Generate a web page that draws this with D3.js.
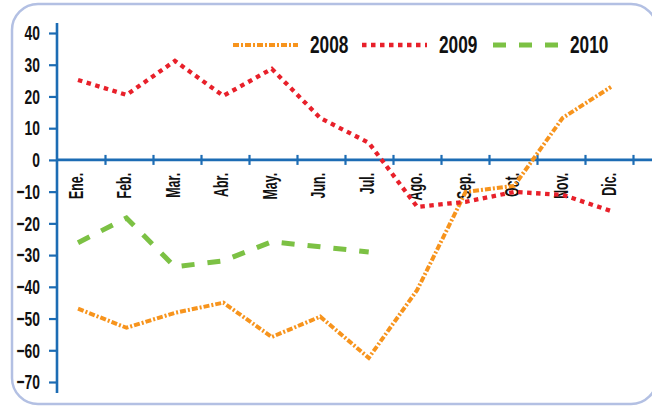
<!DOCTYPE html>
<html lang="es">
  <head>
    <meta charset="utf-8">
    <title>2008 2009 2010</title>
    <style>
      body { margin: 0; background: #fff; }
      svg { display: block; }
      text { font-family: "Liberation Sans", Arial, sans-serif; fill: #111; }
    </style>
  </head>
  <body>
    <svg></svg>

    <script src="https://d3js.org/d3.v7.min.js"></script>

    <script>
      // tamaño
      var svgWidth = 652;
      var svgHeight = 406;

      // datos
      var meses = ['Ene.', 'Feb.', 'Mar.', 'Abr.', 'May.', 'Jun.', 'Jul.', 'Ago.', 'Sep.', 'Oct.', 'Nov.', 'Dic.'];
      var serie2008 = [-46.9, -52.9, -48.2, -45, -55.8, -49.4, -62.4, -41, -10.1, -8.2, 13.2, 23];
      var serie2009 = [25.2, 20.5, 31.2, 20.2, 28.7, 13.2, 5.4, -14.8, -13.2, -10.1, -11, -16.1];
      var serie2010 = [-26.1, -18.3, -33.7, -31.8, -25.8, -27.4, -29];
      var yTicks = [40, 30, 20, 10, 0, -10, -20, -30, -40, -50, -60, -70];
      var anios = ['2008', '2009', '2010'];

      var svg = d3.select('svg')
          .attr('width', svgWidth)
          .attr('height', svgHeight);

      // marco redondeado
      svg.append('rect')
          .attr('x', 12).attr('y', 4)
          .attr('width', 645).attr('height', 400)
          .attr('rx', 26).attr('ry', 26)
          .attr('fill', 'none')
          .attr('stroke', '#b3c0e3')
          .attr('stroke-width', 2.5);

      var azul = '#1c6cb4';
      // letra estrecha: Liberation Sans comprimida a lo ancho
      var estrecho = 0.66;

      var y = d3.scaleLinear().domain([-70, 40]).range([382, 33]);
      var xTick = d3.scaleLinear().domain([0, 12]).range([57, 633]);
      var x = d3.scalePoint().domain(meses).range([78, 611]);

      // eje y
      var ejeY = svg.append('g')
          .attr('transform', 'translate(57,0)')
          .call(d3.axisLeft(y).tickValues(yTicks).tickSize(8).tickPadding(9).tickFormat(d3.format('d')));
      ejeY.select('.domain').remove();
      ejeY.selectAll('.tick line').attr('stroke', azul).attr('stroke-width', 2.2);
      ejeY.selectAll('.tick text')
          .attr('font-size', 21)
          .attr('font-weight', 'bold')
          .attr('font-family', '"Liberation Sans", sans-serif')
          .attr('fill', '#111')
          .attr('x', -17 / estrecho)
          .attr('transform', 'scale(' + estrecho + ',1)');
      svg.append('line')
          .attr('x1', 57).attr('x2', 57)
          .attr('y1', 23).attr('y2', 393)
          .attr('stroke', azul).attr('stroke-width', 2.6);

      // eje x en cero
      var ejeX = svg.append('g')
          .attr('transform', 'translate(0,' + y(0) + ')')
          .call(d3.axisBottom(xTick).tickValues(d3.range(1, 13)).tickSize(0).tickFormat(''));
      ejeX.select('.domain').remove();
      ejeX.selectAll('.tick line')
          .attr('y1', -5).attr('y2', 5)
          .attr('stroke', azul).attr('stroke-width', 2.2);
      svg.append('line')
          .attr('x1', 57).attr('x2', 652)
          .attr('y1', y(0)).attr('y2', y(0))
          .attr('stroke', azul).attr('stroke-width', 2.6);

      // etiquetas de meses, giradas
      svg.selectAll('.mes')
          .data(meses)
          .enter()
          .append('text')
          .attr('class', 'mes')
          .attr('transform', function(d) { return 'translate(' + (x(d) + 5) + ',' + (y(0) + 13) + ') rotate(-90) scale(0.62,1)'; })
          .attr('text-anchor', 'end')
          .attr('font-size', 20)
          .attr('font-weight', 'bold')
          .text(function(d) { return d; });

      var linea = d3.line()
          .x(function(d, i) { return x(meses[i]); })
          .y(function(d) { return y(d); });

      var estilos = {
        '2008': { color: '#f7941d', ancho: 4, dash: '6,2,2,2', datos: serie2008 },
        '2009': { color: '#e8202a', ancho: 4.3, dash: '4.5,4.5', datos: serie2009 },
        '2010': { color: '#7cc144', ancho: 5, dash: '13,13', datos: serie2010 }
      };

      anios.forEach(function(a) {
        var e = estilos[a];
        svg.append('path')
            .datum(e.datos)
            .attr('d', linea)
            .attr('fill', 'none')
            .attr('stroke', e.color)
            .attr('stroke-width', e.ancho)
            .attr('stroke-dasharray', e.dash);
      });

      // leyenda
      var leyX = [233, 362, 493];
      anios.forEach(function(a, i) {
        var e = estilos[a];
        svg.append('line')
            .attr('x1', leyX[i]).attr('x2', leyX[i] + 65)
            .attr('y1', 45).attr('y2', 45)
            .attr('stroke', e.color)
            .attr('stroke-width', e.ancho)
            .attr('stroke-dasharray', e.dash);
        svg.append('text')
            .attr('transform', 'translate(' + (leyX[i] + 77) + ',53) scale(0.72,1)')
            .attr('font-size', 24)
            .attr('font-weight', 'bold')
            .text(a);
      });
    </script>
  </body>
</html>
